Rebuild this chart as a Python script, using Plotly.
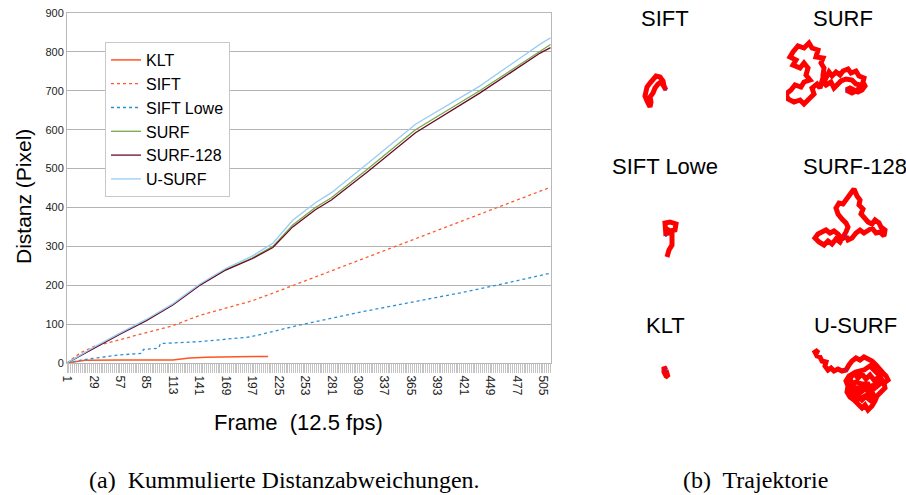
import plotly.graph_objects as go

W, H = 906, 495

# ---------------- data: cumulative distance deviation ----------------
frames_surf = [1, 15, 29, 57, 85, 113, 141, 169, 197, 219, 240, 264, 281, 320, 370, 438, 502, 513]
surf =        [0, 20, 38, 75, 110, 150, 200, 240, 270, 300, 355, 400, 425, 500, 600, 700, 800, 819]
surf128 =     [0, 19, 37, 74, 109, 149, 199, 239, 268, 297, 350, 394, 419, 493, 592, 694, 797, 811]
usurf =       [0, 21, 40, 77, 112, 152, 202, 243, 275, 308, 367, 412, 438, 514, 614, 712, 820, 836]

frames_sift = [1, 15, 29, 57, 85, 113, 141, 169, 197, 226, 253, 281, 309, 337, 365, 393, 421, 449, 477, 505, 513]
sift =        [0, 26, 42, 60, 77, 96, 122, 142, 160, 186, 212, 237, 263, 289, 314, 340, 366, 393, 419, 445, 452]

frames_lowe = [1, 17, 54, 80, 82, 98, 100, 142, 195, 215, 226, 248, 314, 365, 421, 456, 513]
sift_lowe =   [0, 8, 20, 25, 35, 38, 50, 55, 67, 78, 85, 98, 132, 155, 182, 200, 231]

frames_klt = [1, 10, 20, 60, 113, 131, 149, 180, 214]
klt =        [0, 4, 7, 8, 8, 13, 15, 16, 17]

tick_frames = list(range(1, 506, 28))

# ---------------- data: trajectories (pixel offsets from start point, y down) ----------------
traj = {
    "SIFT": ([0, -2, -3, -6, -10, -13, -16, -19, -20, -21, -19, -17, -16, -15, -16, -13, -11, -8, -5, -3, 0],
             [0, -4, -9, -13, -14, -11, -7, -3, 2, 6, 11, 15, 17, 12, 7, 3, -2, -6, -8, -5, 0]),
    "SURF": ([0, 4, 8, 12, 16, 19, 17, 18, 13, 10, 5, 2, -3, -6, -10, -14, -17, -20, -23, -22, -25, -23, -30, -28,
              -34, -37, -42, -48, -53, -56, -50, -53, -46, -42, -38, -40, -36, -42, -45, -51, -55, -60, -58, -52,
              -46, -42, -36, -32, -34, -29, -26, -24, -20, -15, -12, -8, -5, 0, 6, 10, 14, 12, 6, 2, 0],
             [0, -2, 0, 2, 0, -4, -8, -12, -14, -19, -17, -21, -19, -15, -18, -14, -18, -12, -15, -22, -27, -32, -33, -40,
              -42, -47, -42, -44, -38, -33, -30, -25, -22, -27, -22, -15, -10, -8, -3, -5, 0, 4, 9, 12,
              10, 14, 8, 4, -2, -6, -2, -9, -5, -8, -2, -6, -9, -11, -10, -6, -5, 0, 3, 1, 0]),
    "SIFT Lowe": ([0, -1, -1, 4, 10, 9, 4, 1, 1, 6, 6, 3, 1],
                  [0, -6, -13, -14, -12, -6, -5, -7, -3, -3, 9, 14, 21]),
    "SURF-128": ([0, -4, -8, -12, -16, -20, -24, -28, -31, -27, -22, -18, -14, -10, -6, -3, 0, 2, 0, -4, -8, -10, -7,
                  -3, 0, 4, 8, 11, 14, 13, 17, 15, 19, 22, 26, 29, 33, 35, 39, 38, 34, 30, 26, 22, 18, 14, 10, 6, 2, 0],
                 [0, 3, -2, -5, -3, -6, -4, -2, 2, 6, 9, 5, 8, 3, 6, 2, -4, -9, -13, -17, -22, -28, -33,
                  -32, -36, -41, -47, -40, -36, -31, -27, -22, -18, -14, -12, -16, -13, -9, -6, 0, -4, -3, -8, -6, -3, -6, -3, 2, 4, 0]),
    "KLT": ([0, -2, -2, 0, 2, 1, 0],
            [0, -3, 2, 6, 7, 3, 0]),
    "U-SURF": ([-30, -28, -31, -29, -26, -24, -20, -21, -18, -15, -12, -8, -4,
                0, 3, 6, 10, 14, 18, 22, 26, 30, 33, 37, 40, 42, 38, 39, 35, 31, 29, 26, 22, 19, 16, 12, 8, 4, 1, 2,
                0, 3, 8, 12, 16, 20, 24, 28, 32, 34, 29, 24, 20, 15, 10, 6, 9, 14, 19, 24, 27, 22, 16, 10, 6, 4,
                10, 18, 24, 28, 33, 36, 30, 22, 16, 10, 4, 14, 20, 26, 30],
               [-16, -20, -18, -14, -13, -9, -8, -4, 0, -2, 1, -1, 1,
                0, -5, -9, -12, -10, -13, -11, -9, -5, -1, 3, 6, 10, 13, 18, 22, 26, 31, 36, 40, 35, 38, 33, 30, 27, 22, 16,
                11, 6, 3, 8, 4, 9, 5, 10, 8, 14, 18, 22, 18, 22, 18, 22, 27, 29, 26, 30, 24, 14, 14, 12, 14, 8,
                2, 0, -4, 0, 5, 10, 14, 24, 30, 24, 18, 18, 20, 16, 20]),
}
# panel layout: name, start point (px), title position (px)
panels = [
    ("SIFT", 666, 90, 665, 18),
    ("SURF", 846, 90, 843, 18),
    ("SIFT Lowe", 666, 236, 665, 167),
    ("SURF-128", 846, 236, 855, 167),
    ("KLT", 666, 370, 665, 325),
    ("U-SURF", 846, 370, 855, 325),
]

fig = go.Figure()

def px(x):
    return min(max(x / W, 0), 1)

def py(y):
    return min(max(1 - y / H, 0), 1)

series = [
    ("KLT", frames_klt, klt, "#ff5522", "solid", 1.5),
    ("SIFT", frames_sift, sift, "#ff5a2a", "dot", 1.3),
    ("SIFT Lowe", frames_lowe, sift_lowe, "#2a8fd6", "dot", 1.3),
    ("SURF", frames_surf, surf, "#77aa44", "solid", 1.3),
    ("SURF-128", frames_surf, surf128, "#6b0a2a", "solid", 1.3),
    ("U-SURF", frames_surf, usurf, "#99ccf5", "solid", 1.3),
]
for name, fx, fy, col, dash, wd in series:
    fig.add_trace(go.Scatter(x=fx, y=fy, name=name, mode="lines",
                             line=dict(color=col, dash=dash, width=wd),
                             xaxis="x", yaxis="y"))

# trajectory panels
half_w, half_h = 60, 55
for i, (name, cx, cy, tx, ty) in enumerate(panels):
    ax = i + 2
    xs, ys = traj[name]
    fig.add_trace(go.Scatter(x=xs, y=ys, mode="lines", showlegend=False,
                             line=dict(color="#ff0000", width=5),
                             xaxis=f"x{ax}", yaxis=f"y{ax}"))
    fig.add_trace(go.Scatter(x=[0], y=[0], mode="markers", showlegend=False,
                             marker=dict(color="#3333ff", size=2),
                             xaxis=f"x{ax}", yaxis=f"y{ax}"))
    fig.update_layout(**{
        f"xaxis{ax}": dict(domain=[px(cx - half_w), px(cx + half_w)], range=[-half_w, half_w],
                           visible=False, anchor=f"y{ax}", automargin=False),
        f"yaxis{ax}": dict(domain=[py(cy + half_h), py(cy - half_h)], range=[half_h, -half_h],
                           visible=False, anchor=f"x{ax}", automargin=False),
    })
    fig.add_annotation(x=px(tx), y=py(ty), xref="paper", yref="paper", text=name,
                       showarrow=False, xanchor="center", yanchor="middle",
                       font=dict(family="Liberation Sans, Arial", size=22, color="#000"))

fig.update_layout(
    width=W, height=H,
    margin=dict(l=0, r=0, t=0, b=0, autoexpand=False),
    paper_bgcolor="white", plot_bgcolor="white",
    showlegend=True,
    xaxis=dict(domain=[px(67), px(551)], range=[1, 513.5], tickmode="array",
               tickvals=tick_frames, ticktext=[str(v) for v in tick_frames],
               tickangle=90, ticks="outside", ticklen=9, tickcolor="#c4c4c4", tickwidth=1,
               minor=dict(dtick=2, tick0=1, ticks="outside", ticklen=9, tickcolor="#c4c4c4", tickwidth=1),
               showgrid=False, zeroline=False, showline=True, linecolor="#b8b8b8", mirror=True,
               tickfont=dict(family="Liberation Sans, Arial", size=12, color="#222"),
               anchor="y", automargin=False),
    yaxis=dict(domain=[py(363), py(13)], range=[0, 900], dtick=100,
               showgrid=True, gridcolor="#b3b3b3", gridwidth=1, zeroline=False,
               showline=True, linecolor="#b8b8b8", mirror=True, ticks="",
               tickfont=dict(family="Liberation Sans, Arial", size=11, color="#222"),
               anchor="x", automargin=False),
    legend=dict(x=px(105), y=py(42), xanchor="left", yanchor="top",
                bordercolor="#c8c8c8", borderwidth=1, bgcolor="white",
                font=dict(family="Liberation Sans, Arial", size=16, color="#000"),
                tracegroupgap=0, itemwidth=30),
)

# axis titles and captions
fig.add_annotation(x=px(23), y=py(197), xref="paper", yref="paper", text="Distanz (Pixel)",
                   textangle=-90, showarrow=False, xanchor="center", yanchor="middle",
                   font=dict(family="Liberation Sans, Arial", size=21, color="#000"))
fig.add_annotation(x=px(298), y=py(422), xref="paper", yref="paper",
                   text="Frame\u00a0 (12.5 fps)", showarrow=False, xanchor="center", yanchor="middle",
                   font=dict(family="Liberation Sans, Arial", size=22, color="#000"))
fig.add_annotation(x=px(284), y=py(480), xref="paper", yref="paper",
                   text="(a)\u00a0 Kummulierte Distanzabweichungen.", showarrow=False,
                   xanchor="center", yanchor="middle",
                   font=dict(family="Liberation Serif, Times New Roman", size=24, color="#000"))
fig.add_annotation(x=px(755), y=py(480), xref="paper", yref="paper",
                   text="(b)\u00a0 Trajektorie", showarrow=False, xanchor="center", yanchor="middle",
                   font=dict(family="Liberation Serif, Times New Roman", size=24, color="#000"))

fig.write_html("out.html")
